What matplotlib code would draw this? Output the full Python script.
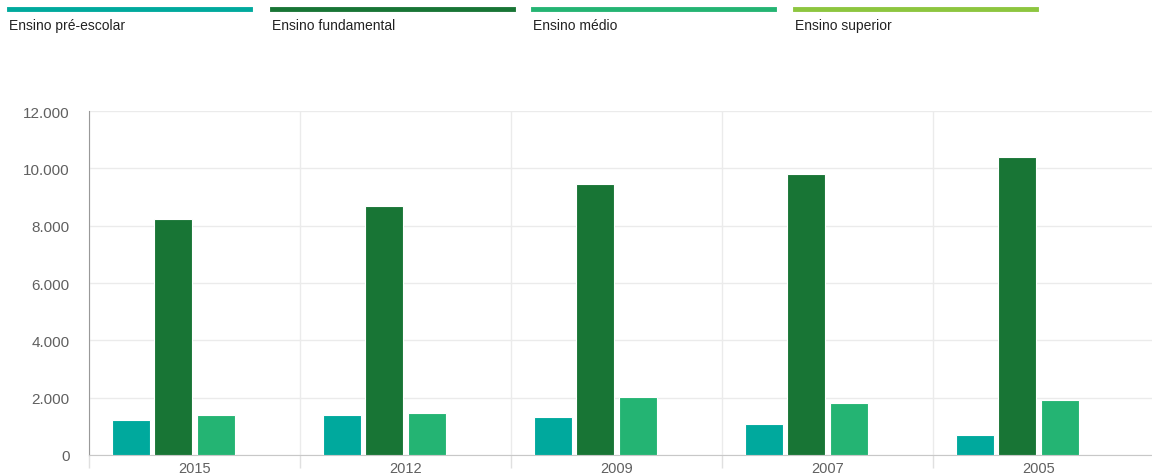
import matplotlib.pyplot as plt
from matplotlib.lines import Line2D
from matplotlib.ticker import FuncFormatter, FixedLocator
import numpy as np

plt.rcParams["font.family"] = ["Liberation Sans", "DejaVu Sans"]

years = ["2015", "2012", "2009", "2007", "2005"]
series = ["Ensino pré-escolar", "Ensino fundamental", "Ensino médio", "Ensino superior"]
pre_escolar = [1235, 1400, 1340, 1095, 700]
fundamental = [8220, 8680, 9440, 9790, 10390]
medio = [1410, 1470, 2040, 1810, 1935]
superior = [0, 0, 0, 0, 0]
colors = ["#00a99d", "#187535", "#24b473", "#8dc63f"]

W, H = 1152, 477
fig = plt.figure(figsize=(W / 100, H / 100), dpi=100)

# plot area in pixels: left 89, right 1152, top 112, bottom 456
slot = 211.0
ax = fig.add_axes([89 / W, (H - 456) / H, (W - 89) / W, (456 - 112) / H])

x = np.arange(len(years))
pitch, width = 0.2, 0.18
for i, vals in enumerate([pre_escolar, fundamental, medio, superior]):
    ax.bar(x + (i - 1.5) * pitch, vals, width=width, color=colors[i],
           edgecolor="#ffffff", linewidth=0.8, zorder=3)

ax.set_xlim(-0.5, -0.5 + (W - 89) / slot)
ax.set_ylim(0, 12000)
ax.set_yticks(range(0, 12001, 2000))
ax.yaxis.set_major_formatter(FuncFormatter(lambda v, p: f"{int(v):,}".replace(",", ".")))
ax.set_xticks(x)
ax.set_xticklabels(years)
ax.xaxis.set_minor_locator(FixedLocator(np.arange(len(years)) - 0.5))

ax.tick_params(axis="y", length=0, pad=14, labelsize=11, labelcolor="#606060")
ax.tick_params(axis="x", which="major", length=0, pad=4, labelsize=10.5, labelcolor="#606060")
ax.tick_params(axis="x", which="minor", length=9, color="#e0e0e0", width=1)

ax.grid(axis="y", color="#ebebeb", linewidth=1, zorder=0)
ax.grid(axis="x", which="minor", color="#ebebeb", linewidth=1, zorder=0)
ax.grid(axis="x", which="major", visible=False)

for s in ["top", "right"]:
    ax.spines[s].set_visible(False)
ax.spines["left"].set_color("#999999")
ax.spines["bottom"].set_color("#c8c8c8")

# legend drawn as coloured strips with labels underneath
leg_x = [9, 272, 533, 795]
for lx, name, c in zip(leg_x, series, colors):
    fig.add_artist(Line2D([lx / W, (lx + 241) / W], [1 - 10 / H, 1 - 10 / H],
                          color=c, linewidth=3.5, transform=fig.transFigure))
    fig.text(lx / W, 1 - 26 / H, name, fontsize=10, color="#222222",
             ha="left", va="center")

fig.savefig("out.png", dpi=100)
